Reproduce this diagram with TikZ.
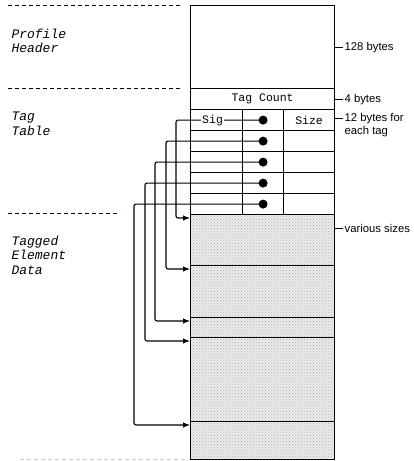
\documentclass[tikz,border=0pt]{standalone}
\usepackage{fontspec}
\setmainfont{Liberation Sans}
\setsansfont{Liberation Sans}
\setmonofont{Liberation Mono}
\usetikzlibrary{arrows.meta,patterns}

\begin{document}
\begin{tikzpicture}[x=1pt,y=-1pt,
    cell/.style={rectangle,draw,line width=1.2pt,inner sep=0pt,anchor=north west,
      font=\ttfamily\fontsize{11.5}{13}\selectfont},
    data/.style={cell,preaction={fill=gray!16},pattern=crosshatch dots,pattern color=gray!60},
    dot/.style={circle,fill=black,inner sep=0pt,minimum size=9pt},
    part/.style={anchor=west,align=left,font=\ttfamily\itshape\fontsize{13}{14.5}\selectfont},
    size/.style={anchor=west,align=left,inner sep=1pt,font=\sffamily\fontsize{11.3}{13}\selectfont},
    tick/.style={line width=0.9pt},
    sep/.style={line width=1pt,dash pattern=on 4pt off 3pt},
    ptr/.style={line width=1.1pt,rounded corners=2pt,-{Latex[length=7pt,width=5.5pt]}}]
    \useasboundingbox (0,0) rectangle (414,461);

    % profile header and tag count
    \node[cell,minimum width=144pt,minimum height=83pt] (header) at (190,5) {};
    \node[cell,minimum width=144pt,minimum height=21pt] (count) at (190,88) {Tag Count};

    % tag table, one row per tag
    \foreach \i [evaluate=\i as \y using 109+21*(\i-1)] in {1,...,5} {
        \node[cell,minimum width=52pt,minimum height=21pt] (sig\i) at (190,\y) {};
        \node[cell,minimum width=41pt,minimum height=21pt] (off\i) at (242,\y) {};
        \node[cell,minimum width=51pt,minimum height=21pt] (len\i) at (283,\y) {};
        \node[dot] (b\i) at (off\i) {};
    }
    \node[font=\ttfamily\fontsize{11.5}{13}\selectfont] (sizetext) at (len1) {Size};

    % tagged element data
    \foreach \n/\t/\h in {1/214/51,2/265/52,3/317/20,4/337/84,5/421/38}
        \node[data,minimum width=144pt,minimum height=\h pt] (d\n) at (190,\t) {};

    % offsets into the data
    \foreach \i/\x in {1/176,2/166,3/155,4/145,5/134}
        \draw[ptr] (b\i.center) -- (b\i -| \x,0) |- ([yshift=-4pt]d\i.north west);
    \node[fill=white,inner sep=1.5pt,font=\ttfamily\fontsize{11.5}{13}\selectfont]
        (sigtext) at ([xshift=-4pt]sig1.center) {Sig};

    % section separators
    \draw[sep] (8,5) -- (180,5);
    \draw[sep] (8,88) -- (180,88);
    \draw[sep] (8,213) -- (120,213);
    \draw[sep,gray!45] (20,459) -- (185,459);

    \node[part] (hdrname) at (8,41) {Profile\\Header};
    \node[part] (tblname) at (8,124) {Tag\\Table};
    \node[part] (dataname) at (8,255) {Tagged\\Element\\Data};

    % sizes
    \draw[tick] (header.east) -- ++(8,0) node[size] (hdrsize) {128 bytes};
    \draw[tick] (count.east) -- ++(8,0) node[size] (cntsize) {4 bytes};
    \draw[tick] ([yshift=2pt]len1.east) -- ++(8,0) node[size,yshift=-6.5pt] (tagsize) {12 bytes for\\each tag};
    \draw[tick] ([yshift=12pt]d1.east) -- ++(8,0) node[size] (datasize) {various sizes};
\end{tikzpicture}
\end{document}
